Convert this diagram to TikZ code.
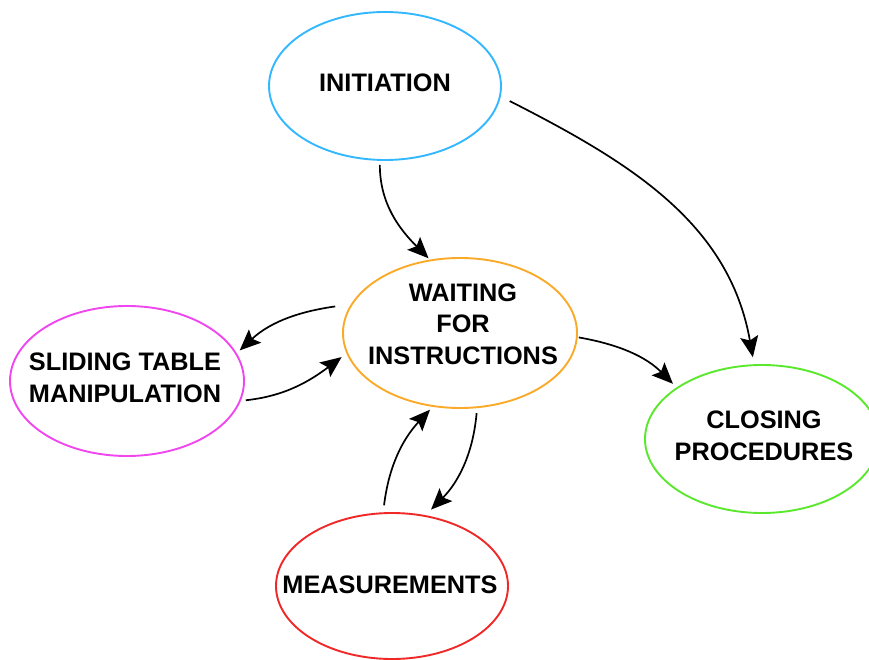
\documentclass[tikz,border=0pt]{standalone}
\usepackage{fontspec}
\setmainfont{Liberation Sans}
\usetikzlibrary{arrows.meta,shapes.geometric}
\definecolor{cInit}{RGB}{51,183,255}
\definecolor{cWait}{RGB}{250,170,40}
\definecolor{cSlide}{RGB}{240,70,240}
\definecolor{cClose}{RGB}{90,232,45}
\definecolor{cMeas}{RGB}{240,40,40}
\begin{document}
\begin{tikzpicture}[x=1pt,y=1pt,
  state/.style={ellipse, draw, line width=1.9pt, inner sep=0pt, outer sep=0pt},
  caption/.style={align=center, font=\bfseries\fontsize{25.3}{31.5}\selectfont, inner sep=0pt},
  flow/.style={-{Stealth[length=21pt,width=18pt,inset=4pt]}, line width=1.7pt, black}
]
\clip (0,0) rectangle (869,659);

% states
\node[state, draw=cInit, minimum width=232pt, minimum height=148pt,
      label={[caption, yshift=3pt]center:INITIATION}] (init) at (385,573) {};
\node[state, draw=cWait, minimum width=234pt, minimum height=150pt,
      label={[caption, yshift=9pt, xshift=3pt]center:WAITING\\FOR\\INSTRUCTIONS}] (wait) at (460,326) {};
\node[state, draw=cSlide, minimum width=234pt, minimum height=150pt,
      label={[caption, yshift=3pt, xshift=-2pt]center:SLIDING TABLE\\MANIPULATION}] (slide) at (127,278) {};
\node[state, draw=cClose, minimum width=234pt, minimum height=148pt,
      label={[caption, yshift=3pt, xshift=2pt]center:CLOSING\\PROCEDURES}] (close) at (762,220) {};
\node[state, draw=cMeas, minimum width=232pt, minimum height=146pt,
      label={[caption, yshift=1pt, xshift=-2pt]center:MEASUREMENTS}] (meas) at (392,73) {};

% transitions
\draw[flow, shorten <=5pt, shorten >=3pt] (init.266) to[out=-90, in=135] (wait.112);
\draw[flow, shorten <=11pt, shorten >=8pt] (init.-5) to[out=-27, in=100] (close.96);
\draw[flow, shorten <=17pt, shorten >=5pt] (wait.165) to[out=188, in=43] (slide.14);
\draw[flow, shorten <=6pt, shorten >=7pt] (slide.-10) to[out=6, in=217] (wait.190);
\draw[flow, shorten <=2pt, shorten >=6pt] (wait.-2) to[out=-10, in=135] (close.149);
\draw[flow, shorten <=6pt, shorten >=9pt] (wait.-77) to[out=-95, in=45] (meas.65);
\draw[flow, shorten <=8pt, shorten >=5pt] (meas.97) to[out=83, in=227] (wait.250);
\end{tikzpicture}
\end{document}
